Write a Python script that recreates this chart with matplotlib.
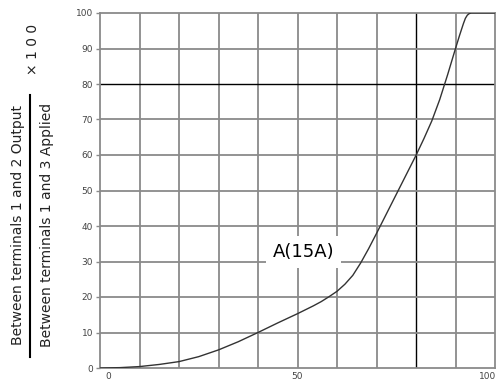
import matplotlib.pyplot as plt
from matplotlib.transforms import ScaledTranslation

# curve (x: %, y: output ratio x100)
x_vals = [0, 5, 10, 15, 20, 25, 30, 35, 40, 45, 50, 54, 56, 58, 60, 62, 64, 66, 68, 70, 72,
          74, 76, 78, 80, 82, 84, 86, 88, 90, 91, 92, 92.5, 93, 93.5, 94, 100]
y_vals = [0, 0.1, 0.4, 1.0, 1.8, 3.2, 5.1, 7.4, 10, 12.7, 15.3, 17.5, 18.7, 20.1, 21.6, 23.6, 26.1, 29.6, 33.6, 37.9, 42.3,
          46.7, 51.1, 55.5, 59.9, 64.6, 69.6, 75.6, 82.6, 90, 93.6, 97, 98.5, 99.4, 99.85, 100, 100]
y_ticks = [0, 10, 20, 30, 40, 50, 60, 70, 80, 90, 100]
x_ticks = [0, 50, 100]
grid_x = [10, 20, 30, 40, 50, 60, 70, 80, 90]
label = "A(15A)"

fig = plt.figure(figsize=(5.01, 3.81), dpi=100)
ax = fig.add_axes([100 / 501, 13 / 381, 395 / 501, 355 / 381])
ax.set_xlim(0, 100)
ax.set_ylim(0, 100)

for g in grid_x:
    if g == 80:
        ax.axvline(g, color='black', lw=1.0, zorder=1)
    else:
        ax.axvline(g, color='#8a8a8a', lw=1.3, zorder=1)
for g in y_ticks[1:-1]:
    if g == 80:
        ax.axhline(g, color='black', lw=1.0, zorder=1)
    else:
        ax.axhline(g, color='#8a8a8a', lw=1.3, zorder=1)

for s in ax.spines.values():
    s.set_color('#8a8a8a')
    s.set_linewidth(1.3)

ax.plot(x_vals, y_vals, color='#333333', lw=1.0, zorder=3)

ax.text(51.6, 32.6, label, fontsize=13, ha='center', va='center', zorder=4,
        bbox=dict(facecolor='white', edgecolor='none', pad=5))

ax.set_yticks(y_ticks)
ax.set_xticks(x_ticks)
ax.tick_params(axis='both', length=3, width=1, color='#8a8a8a', labelsize=6.5,
               labelcolor='#444444', pad=2)
ax.tick_params(axis='x', length=0, pad=3)
xl = ax.get_xticklabels()
xl[0].set_transform(xl[0].get_transform() + ScaledTranslation(8 / 100, 0, fig.dpi_scale_trans))
xl[-1].set_transform(xl[-1].get_transform() + ScaledTranslation(-7 / 100, 0, fig.dpi_scale_trans))

# fraction-style y label
fig.text(18 / 501, 1 - 225 / 381, "Between terminals 1 and 2 Output", rotation=90,
         ha='center', va='center', fontsize=10, color='#222222')
fig.text(47 / 501, 1 - 225 / 381, "Between terminals 1 and 3 Applied", rotation=90,
         ha='center', va='center', fontsize=10, color='#222222')
fig.add_artist(plt.Line2D([30 / 501, 30 / 501], [1 - 357 / 381, 1 - 95 / 381],
                          color='black', lw=1.5))
fig.text(33 / 501, 1 - 49 / 381, "× 1 0 0", rotation=90,
         ha='center', va='center', fontsize=10, color='#222222')

fig.savefig("out.png", dpi=100)
